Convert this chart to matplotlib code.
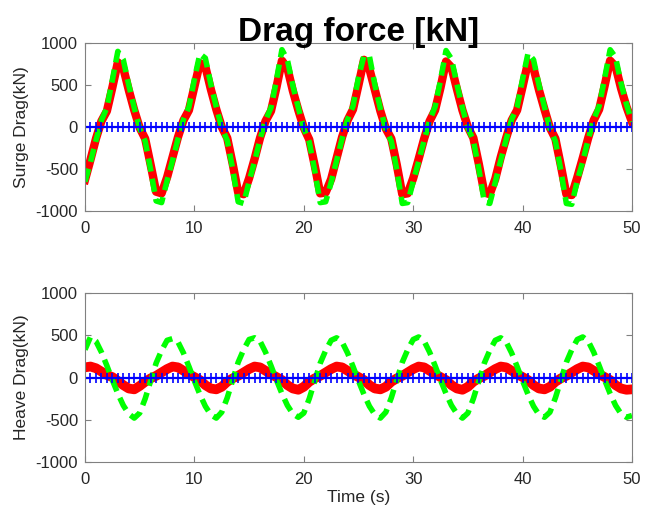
import numpy as np
import matplotlib
matplotlib.use("Agg")
import matplotlib.pyplot as plt

# sample times (s), 0.5 s step
time = np.arange(0, 50.01, 0.5)

# surge drag (kN)
surge_red = [
    -630, -390, -140, 70, 190, 470, 770, 700, 440, 200, -10, -140, -450, -770, -790,
    -600, -360, -120, 80, 200, 480, 760, 720, 450, 210, 0, -130, -440, -780, -800,
    -610, -380, -130, 70, 190, 470, 790, 700, 430, 200, -10, -150, -460, -790, -780,
    -620, -370, -120, 80, 210, 500, 800, 690, 440, 190, -20, -140, -450, -800, -790,
    -610, -380, -140, 70, 200, 470, 780, 710, 450, 200, 0, -130, -440, -780, -800,
    -620, -360, -130, 80, 200, 480, 770, 700, 440, 210, -10, -140, -460, -800, -810,
    -600, -370, -130, 80, 210, 490, 790, 720, 460, 240, 60,
]
surge_green = [
    -650, -420, -160, 80, 230, 560, 900, 800, 500, 230, -20, -170, -510, -880, -900,
    -640, -400, -140, 90, 240, 570, 870, 820, 510, 240, -10, -160, -500, -890, -910,
    -650, -410, -150, 80, 230, 560, 920, 800, 490, 230, -20, -180, -520, -900, -890,
    -660, -400, -140, 90, 250, 590, 850, 840, 500, 220, -30, -170, -510, -910, -900,
    -650, -410, -160, 80, 240, 560, 910, 810, 510, 230, -10, -160, -500, -890, -910,
    -660, -400, -150, 90, 240, 570, 880, 800, 500, 240, -20, -170, -520, -910, -920,
    -640, -410, -150, 90, 250, 580, 920, 830, 520, 270, 60,
]

# heave drag (kN)
heave_red = [
    120, 130, 110, 70, 30, 5, -40, -90, -130, -140, -100, -50, -10, 20, 60,
    100, 130, 120, 80, 40, 5, -30, -90, -130, -140, -110, -50, -10, 20, 60,
    100, 130, 120, 80, 40, 5, -30, -90, -130, -145, -110, -50, -10, 20, 60,
    100, 130, 120, 80, 40, 5, -30, -90, -130, -140, -110, -50, -10, 20, 60,
    100, 130, 120, 80, 40, 5, -30, -90, -130, -145, -110, -50, -10, 20, 60,
    100, 130, 120, 80, 40, 5, -30, -90, -130, -140, -110, -50, -10, 20, 60,
    100, 130, 120, 80, 40, 5, -30, -90, -130, -145, -140,
]
heave_green = [
    330,
    480, 430, 300, 140, -30, -190, -330, -430, -480, -420, -250, -40, 170, 320, 440,
    460, 420, 290, 130, -40, -200, -340, -440, -480, -410, -240, -30, 180, 330, 450,
    470, 430, 300, 140, -30, -190, -330, -430, -470, -420, -250, -40, 170, 320, 440,
    470, 420, 290, 130, -40, -200, -340, -440, -480, -410, -240, -30, 180, 330, 450,
    480, 430, 300, 140, -30, -190, -330, -430, -480, -420, -250, -40, 170, 320, 440,
    470, 420, 290, 130, -40, -200, -340, -440, -470, -410, -240, -30, 180, 330, 450,
    480, 430, 300, 140, -30, -190, -330, -430, -470, -450,
]
# third series sits on zero the whole time
blue_zero = [0.0] * 101

y_ticks = [-1000, -500, 0, 500, 1000]
x_ticks = [0, 10, 20, 30, 40, 50]

plt.rcParams["font.family"] = ["Liberation Sans", "DejaVu Sans"]
plt.rcParams["axes.unicode_minus"] = False
text_col = "#262626"
edge_col = "#808080"

fig = plt.figure(figsize=(6.46, 5.21), dpi=100)
ax1 = fig.add_axes([0.1316, 0.595, 0.8467, 0.3225])
ax2 = fig.add_axes([0.1316, 0.1132, 0.8467, 0.3244])


def draw(ax, red, green, red_lw, ylabel):
    ax.plot(time, red, color="#ff0000", lw=red_lw)
    ax.plot(time, green, color="#00ff00", lw=4.0, linestyle=(0, (2.4, 1.3)))
    ax.plot(time, blue_zero, color="#0000ff", lw=1.6, marker="+", ms=6.5, mew=1.2)
    ax.set_xlim(0, 50)
    ax.set_ylim(-1000, 1000)
    ax.set_xticks(x_ticks)
    ax.set_yticks(y_ticks)
    ax.tick_params(direction="in", top=True, right=True, length=4, width=0.8,
                   colors=edge_col, labelcolor=text_col, labelsize=12)
    ax.tick_params(axis="x", pad=7)
    ax.tick_params(axis="y", pad=5)
    for s in ax.spines.values():
        s.set_color(edge_col)
        s.set_linewidth(0.8)
    ax.set_ylabel(ylabel, fontsize=12.5, color=text_col, labelpad=5)


draw(ax1, surge_red, surge_green, 6.0, "Surge Drag(kN)")
draw(ax2, heave_red, heave_green, 7.0, "Heave Drag(kN)")
ax2.set_xlabel("Time (s)", fontsize=12.5, color=text_col, labelpad=2)

fig.text(0.555, 1 - 41 / 521, "Drag force [kN]", ha="center", va="baseline",
         fontsize=24, fontweight="bold", color="black")

fig.savefig("out.png", dpi=100)
